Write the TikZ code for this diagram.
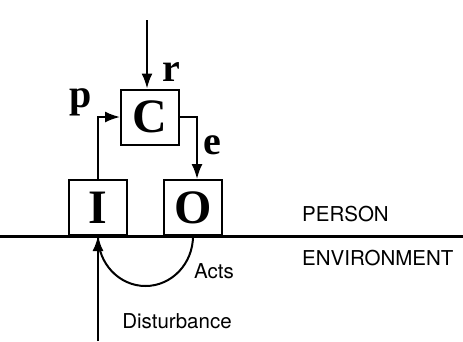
\documentclass[tikz,border=0pt]{standalone}
\usepackage{fontspec}
\newfontfamily\heros{TeX Gyre Heros}
\newfontfamily\letters{Liberation Serif}
\usetikzlibrary{arrows.meta}
\tikzset{
  box/.style={draw, line width=2pt, minimum width=58pt, minimum height=55pt,
    inner sep=0pt, font=\letters\fontsize{48}{48}\selectfont\bfseries},
  sig/.style={anchor=base, font=\letters\fontsize{40}{40}\selectfont\bfseries},
  lbl/.style={font=\heros\fontsize{20.5}{20.5}\selectfont},
  arr/.style={line width=2pt, -{Latex[length=15pt,width=11pt]}}
}
\begin{document}
\begin{tikzpicture}[x=1pt,y=1pt]
  \useasboundingbox (0,0) rectangle (463,-341);
  % boundary person / environment
  \coordinate (lineL) at (0,-236);
  \coordinate (lineR) at (463,-236);
  \draw[line width=3pt] (lineL) -- (lineR);
  % boxes
  \node[box] (C) at (150,-117) {C};
  \node[box, anchor=south] (I) at (98,-236) {I};
  \node[box, anchor=south] (O) at (193,-236) {O};
  % loop signals
  \coordinate (ref) at (147,-20);
  \draw[arr] (ref) -- (ref |- C.north);
  \draw[arr] (I.north) |- (C.west);
  \draw[arr] (C.east) -| ([xshift=4pt]O.north);
  \node[sig] (r) at (171,-81) {r};
  \node[sig] (p) at (81,-107) {p};
  \node[sig] (e) at (212,-154) {e};
  % environment
  \coordinate (dist) at (98,-341);
  \draw[arr] (dist) -- (I.south);
  \draw[line width=2pt] (O.south) arc[start angle=0, end angle=-180, x radius=47.5, y radius=50];
  \node[lbl, anchor=base] (acts) at (214,-278) {Acts};
  \node[lbl, anchor=base] (disturbance) at (177,-328) {Disturbance};
  \node[lbl, anchor=base west, inner sep=0pt] (person) at (302,-221) {PERSON};
  \node[lbl, anchor=base west, inner sep=0pt] (environment) at (302,-265) {ENVIRONMENT};
\end{tikzpicture}
\end{document}
